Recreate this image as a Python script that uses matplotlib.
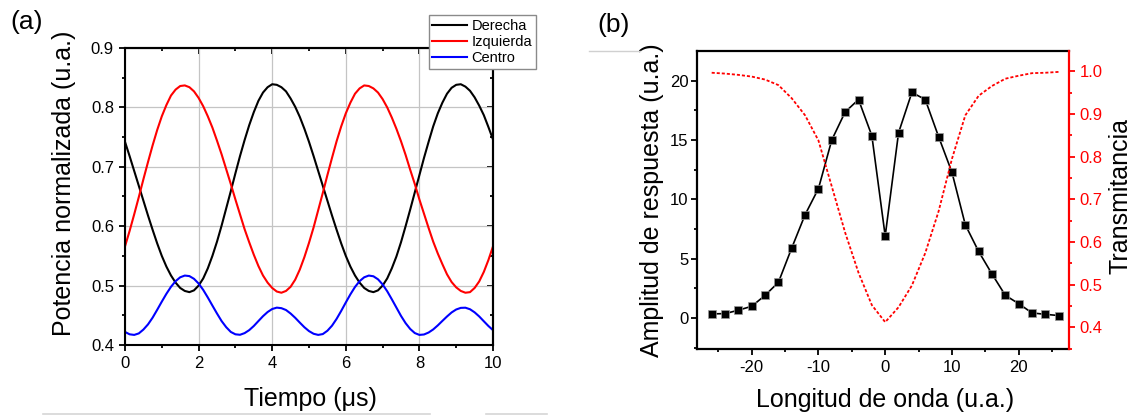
import matplotlib
matplotlib.use("Agg")
import matplotlib.pyplot as plt
from matplotlib.lines import Line2D
from matplotlib.ticker import MultipleLocator, FormatStrFormatter, NullFormatter

plt.rcParams['font.family'] = ['Liberation Sans', 'DejaVu Sans']
plt.rcParams['axes.unicode_minus'] = False

# ---------------- Panel (a) data ----------------
tiempo = [0.0, 0.125, 0.25, 0.375, 0.5, 0.625, 0.75, 0.875, 1.0, 1.125, 1.25, 1.375,
          1.5, 1.625, 1.75, 1.875, 2.0, 2.125, 2.25, 2.375, 2.5, 2.625, 2.75, 2.875,
          3.0, 3.125, 3.25, 3.375, 3.5, 3.625, 3.75, 3.875, 4.0, 4.125, 4.25, 4.375,
          4.5, 4.625, 4.75, 4.875, 5.0, 5.125, 5.25, 5.375, 5.5, 5.625, 5.75, 5.875,
          6.0, 6.125, 6.25, 6.375, 6.5, 6.625, 6.75, 6.875, 7.0, 7.125, 7.25, 7.375,
          7.5, 7.625, 7.75, 7.875, 8.0, 8.125, 8.25, 8.375, 8.5, 8.625, 8.75, 8.875,
          9.0, 9.125, 9.25, 9.375, 9.5, 9.625, 9.75, 9.875, 10.0]
derecha = [0.742, 0.718, 0.693, 0.668, 0.643, 0.618, 0.594, 0.571, 0.550, 0.532,
           0.517, 0.505, 0.496, 0.491, 0.489, 0.492, 0.500, 0.512, 0.529, 0.550,
           0.574, 0.601, 0.630, 0.659, 0.689, 0.718, 0.745, 0.770, 0.792, 0.811,
           0.825, 0.834, 0.839, 0.838, 0.834, 0.827, 0.815, 0.801, 0.784, 0.764,
           0.742, 0.718, 0.693, 0.668, 0.643, 0.618, 0.594, 0.571, 0.550, 0.532,
           0.517, 0.505, 0.496, 0.491, 0.489, 0.492, 0.500, 0.512, 0.529, 0.549,
           0.573, 0.600, 0.628, 0.657, 0.686, 0.715, 0.742, 0.768, 0.790, 0.808,
           0.823, 0.833, 0.838, 0.839, 0.835, 0.828, 0.817, 0.803, 0.787, 0.767,
           0.746]
izquierda = [0.566, 0.592, 0.620, 0.649, 0.679, 0.708, 0.736, 0.762, 0.785, 0.804,
             0.820, 0.830, 0.836, 0.837, 0.834, 0.827, 0.816, 0.802, 0.785, 0.766,
             0.744, 0.721, 0.696, 0.671, 0.645, 0.620, 0.595, 0.573, 0.552, 0.533,
             0.517, 0.505, 0.496, 0.490, 0.488, 0.491, 0.498, 0.510, 0.527, 0.548,
             0.572, 0.598, 0.627, 0.656, 0.686, 0.715, 0.743, 0.768, 0.790, 0.808,
             0.823, 0.832, 0.837, 0.836, 0.832, 0.825, 0.814, 0.800, 0.783, 0.764,
             0.743, 0.720, 0.695, 0.671, 0.645, 0.621, 0.597, 0.574, 0.554, 0.536,
             0.519, 0.506, 0.497, 0.491, 0.488, 0.489, 0.496, 0.507, 0.523, 0.543,
             0.566]
centro = [0.422, 0.418, 0.417, 0.4195, 0.426, 0.4347, 0.446, 0.4593, 0.473, 0.4862,
          0.498, 0.5075, 0.514, 0.5169, 0.516, 0.5114, 0.5035, 0.4928, 0.480, 0.4664,
          0.453, 0.4403, 0.430, 0.4220, 0.418, 0.4172, 0.420, 0.4250, 0.432, 0.4403,
          0.4485, 0.4555, 0.4606, 0.4629, 0.462, 0.4589, 0.453, 0.4458, 0.4377, 0.4299,
          0.4234, 0.4189, 0.417, 0.4184, 0.424, 0.4325, 0.444, 0.4574, 0.4716, 0.4853,
          0.4977, 0.5075, 0.514, 0.5169, 0.5157, 0.5106, 0.502, 0.4905, 0.477, 0.4630,
          0.449, 0.4368, 0.427, 0.4201, 0.417, 0.4177, 0.421, 0.4262, 0.433, 0.4406,
          0.448, 0.4548, 0.4598, 0.4625, 0.4628, 0.4602, 0.455, 0.4481, 0.440, 0.4320,
          0.425]

# ---------------- Panel (b) data ----------------
longitud = [-26, -24, -22, -20, -18, -16, -14, -12, -10, -8, -6, -4, -2, 0,
            2, 4, 6, 8, 10, 12, 14, 16, 18, 20, 22, 24, 26]
amplitud = [0.34, 0.36, 0.65, 0.98, 1.9, 3.0, 5.9, 8.7, 10.9, 15.0, 17.35, 18.4,
            15.35, 6.9, 15.6, 19.0, 18.4, 15.27, 12.27, 7.85, 5.6, 3.7, 1.9, 1.2,
            0.42, 0.3, 0.2]
transmitancia = [0.997, 0.995, 0.992, 0.988, 0.981, 0.968, 0.937, 0.897, 0.838,
                 0.730, 0.622, 0.528, 0.452, 0.412, 0.447, 0.498, 0.574, 0.672,
                 0.795, 0.897, 0.943, 0.966, 0.983, 0.990, 0.996, 0.997, 0.999]

W, H = 1135, 417
fig = plt.figure(figsize=(W / 100, H / 100), dpi=100)

TICK_FS = 12
LABEL_FS = 18

# ---------------- Panel (a) ----------------
ax1 = fig.add_axes([125 / W, (H - 345) / H, 368 / W, 297 / H])
ax1.plot(tiempo, derecha, color='black', lw=1.5, label='Derecha')
ax1.plot(tiempo, izquierda, color='#ff0000', lw=1.5, label='Izquierda')
ax1.plot(tiempo, centro, color='#0000ff', lw=1.5, label='Centro')
ax1.set_xlim(0, 10)
ax1.set_ylim(0.4, 0.9)
ax1.xaxis.set_major_locator(MultipleLocator(2))
ax1.xaxis.set_minor_locator(MultipleLocator(1))
ax1.yaxis.set_major_locator(MultipleLocator(0.1))
ax1.yaxis.set_minor_locator(MultipleLocator(0.05))
ax1.yaxis.set_major_formatter(FormatStrFormatter('%.1f'))
ax1.grid(True, which='major', color='#c4c4c4', lw=0.9)
ax1.set_axisbelow(True)
for s in ax1.spines.values():
    s.set_linewidth(1.5)
ax1.tick_params(which='both', direction='out', width=1.3, labelsize=TICK_FS, pad=3.5)
ax1.tick_params(which='major', length=4.5)
ax1.tick_params(which='minor', length=2.5)

secx = ax1.secondary_xaxis('top')
secx.xaxis.set_major_locator(MultipleLocator(2))
secx.xaxis.set_minor_locator(MultipleLocator(1))
secx.xaxis.set_major_formatter(NullFormatter())
secx.tick_params(which='both', direction='in', width=1.3)
secx.tick_params(which='major', length=4.5)
secx.tick_params(which='minor', length=2.5)
secx.spines['top'].set_linewidth(1.5)

secy = ax1.secondary_yaxis('right')
secy.yaxis.set_major_locator(MultipleLocator(0.1))
secy.yaxis.set_minor_locator(MultipleLocator(0.05))
secy.yaxis.set_major_formatter(NullFormatter())
secy.tick_params(which='both', direction='in', width=1.3)
secy.tick_params(which='major', length=4.5)
secy.tick_params(which='minor', length=2.5)
secy.spines['right'].set_linewidth(1.5)

ax1.set_xlabel('Tiempo (μs)', fontsize=LABEL_FS, va='center')
ax1.xaxis.set_label_coords(0.503, -0.182)
ax1.set_ylabel('Potencia normalizada (u.a.)', fontsize=LABEL_FS, va='center')
ax1.yaxis.set_label_coords(-0.165, 0.546)

leg = ax1.legend(loc='upper right', bbox_to_anchor=(536 / W, 1 - 15 / H),
                 bbox_transform=fig.transFigure, fontsize=10.5, frameon=True,
                 fancybox=False, borderpad=0.25, borderaxespad=0,
                 handlelength=2.4, handletextpad=0.3, labelspacing=0.15)
leg.get_frame().set_edgecolor('#8a8a8a')
leg.get_frame().set_linewidth(1.0)
leg.get_frame().set_alpha(1)

# ---------------- Panel (b) ----------------
ax2 = fig.add_axes([697 / W, (H - 349) / H, 372.4 / W, 298 / H])
ax2.plot(longitud, amplitud, color='black', lw=1.2, marker='s', ms=5.6,
         mfc='black', mec='#9a9a9a', mew=0.5)
ax2.set_xlim(-28.2, 27.6)
ax2.set_ylim(-2.62, 22.49)
ax2.xaxis.set_major_locator(MultipleLocator(10))
ax2.xaxis.set_minor_locator(MultipleLocator(5))
ax2.yaxis.set_major_locator(MultipleLocator(5))
ax2.yaxis.set_minor_locator(MultipleLocator(2.5))
for s in ax2.spines.values():
    s.set_linewidth(1.6)
ax2.spines['right'].set_visible(False)
ax2.tick_params(which='both', direction='out', width=1.3, labelsize=TICK_FS)
ax2.tick_params(which='major', length=4.5)
ax2.tick_params(which='minor', length=2.5)
ax2.tick_params(axis='y', pad=1.5)
ax2.tick_params(axis='x', pad=3.5)
ax2.set_xlabel('Longitud de onda (u.a.)', fontsize=LABEL_FS, va='center')
ax2.xaxis.set_label_coords(0.505, -0.171)
ax2.set_ylabel('Amplitud de respuesta (u.a.)', fontsize=LABEL_FS, va='center')
ax2.yaxis.set_label_coords(-0.122, 0.498)

ax3 = ax2.twinx()
ax3.plot(longitud, transmitancia, color='#ff0000', lw=1.3, linestyle=(0, (1.7, 1.1)))
ax3.set_ylim(0.349, 1.048)
ax3.yaxis.set_major_locator(MultipleLocator(0.1))
ax3.yaxis.set_minor_locator(MultipleLocator(0.05))
ax3.yaxis.set_major_formatter(FormatStrFormatter('%.1f'))
for k in ['left', 'top', 'bottom']:
    ax3.spines[k].set_visible(False)
ax3.spines['right'].set_color('#ff0000')
ax3.spines['right'].set_linewidth(1.6)
ax3.tick_params(axis='y', which='both', direction='out', width=1.3, colors='#ff0000',
                labelsize=TICK_FS, pad=2.6)
ax3.tick_params(axis='y', which='major', length=4.5)
ax3.tick_params(axis='y', which='minor', length=2.5)
ax3.set_ylabel('Transmitancia', fontsize=LABEL_FS, color='black', va='center',
               rotation=90)
ax3.yaxis.set_label_coords(1.136, 0.512)

# Panel letters
fig.text(27 / W, 1 - 22 / H, '(a)', fontsize=19, ha='center', va='center')
fig.text(613.5 / W, 1 - 25 / H, '(b)', fontsize=19, ha='center', va='center')

# faint frame remnants of the source image
fig.add_artist(Line2D([43 / W, 430 / W], [1 - 414 / H] * 2, color='#d6d6d6', lw=1.2))
fig.add_artist(Line2D([486 / W, 547 / W], [1 - 414 / H] * 2, color='#d6d6d6', lw=1.2))
fig.add_artist(Line2D([589 / W, 640 / W], [1 - 51 / H] * 2, color='#d0d0d0', lw=1.0))

fig.savefig('out.png', dpi=100)
